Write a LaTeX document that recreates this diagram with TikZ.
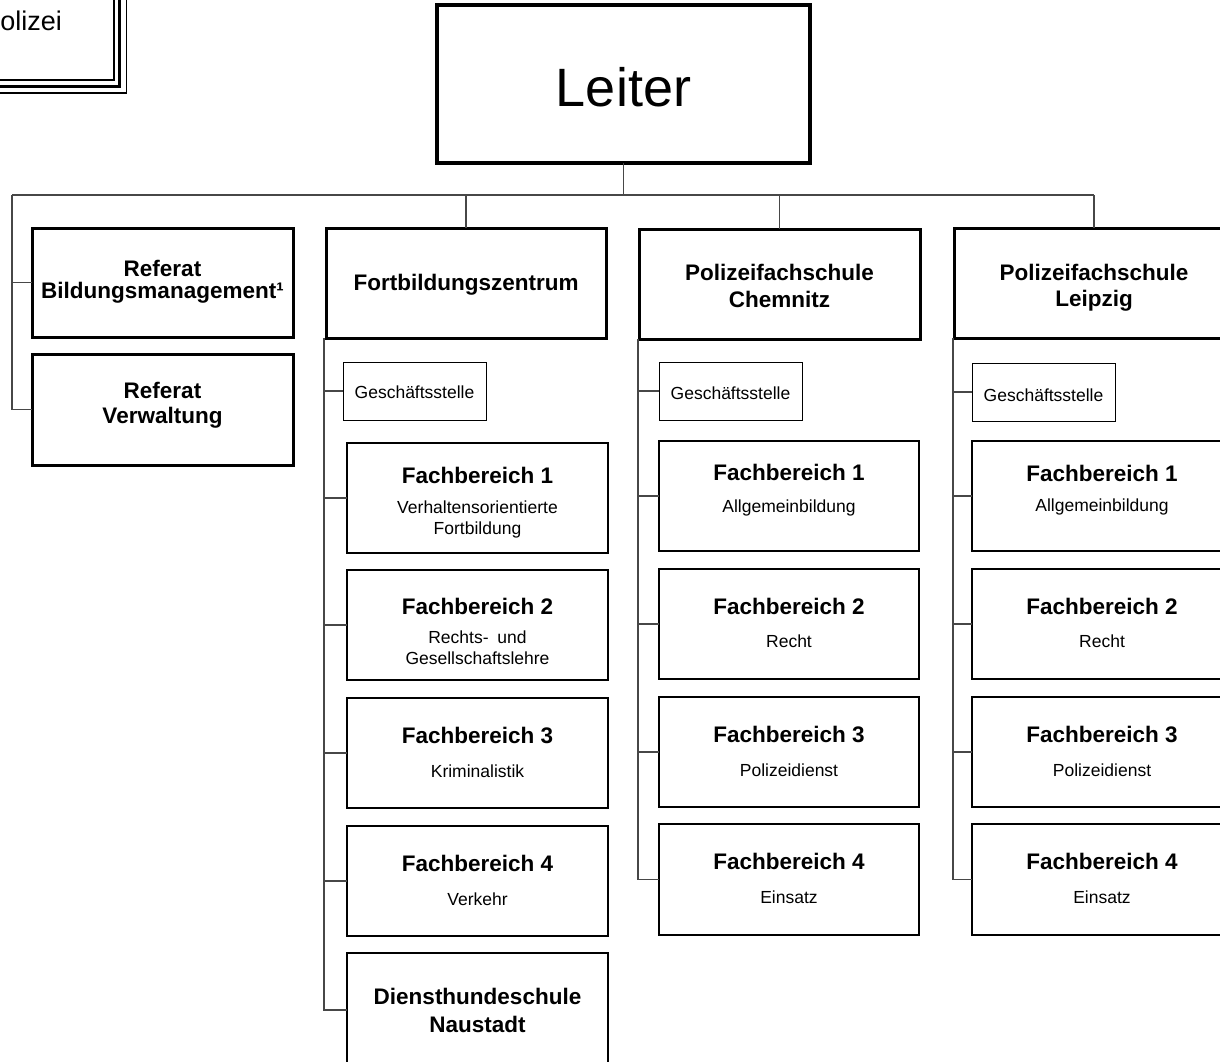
\documentclass[tikz,border=0pt]{standalone}
\usepackage{fontspec}
\setmainfont{Liberation Sans}
\begin{document}
\begin{tikzpicture}[x=1pt,y=-1pt,
  conn/.style={draw=black!72, line width=1.1pt},
  box/.style={draw=black, fill=white, rectangle, anchor=north west, inner sep=0pt, outer sep=0pt},
  leiterbox/.style={box, line width=4pt},
  headbox/.style={box, line width=3pt},
  fbbox/.style={box, line width=2.2pt, minimum width=261pt, minimum height=110pt},
  gsbox/.style={box, line width=1pt, minimum width=143pt, minimum height=58pt},
  tbig/.style={anchor=base, inner sep=0pt, font=\fontsize{54}{60}\selectfont},
  thead/.style={anchor=base, inner sep=0pt, font=\fontsize{22.5}{26}\selectfont\bfseries},
  tsub/.style={anchor=base, inner sep=0pt, font=\fontsize{17.5}{21}\selectfont},
]
\useasboundingbox (0,0) rectangle (1220,1061);
\fill[white] (0,0) rectangle (1220,1061);

% top-left box (mostly outside the picture)
\draw[line width=1.4pt] (-30,-30) rectangle (114,80);
\draw[line width=3.2pt] (-30,-30) rectangle (119.5,86.5);
\draw[line width=1.4pt] (-30,-30) rectangle (126.5,93);
\node[anchor=base east, inner sep=0pt, font=\fontsize{27}{30}\selectfont] (hstext) at (62,30) {olizei};

% Leiter
\node[leiterbox, minimum width=373pt, minimum height=158pt] (leiter) at (437,5) {};
\node[tbig] (tleiter) at (623.5,106) {Leiter};

% Referate
\node[headbox, minimum width=261pt, minimum height=109pt] (refbm) at (32,228) {};
\node[thead] (trefbm1) at (162.5,276) {Referat};
\node[thead] (trefbm2) at (162.5,298) {Bildungsmanagement¹};
\node[headbox, minimum width=261pt, minimum height=111pt] (refvw) at (32,354) {};
\node[thead] (trefvw1) at (162.5,398) {Referat};
\node[thead] (trefvw2) at (162.5,423) {Verwaltung};

% heads of columns
\node[headbox, minimum width=280pt, minimum height=110pt] (fbz) at (326,228) {};
\node[thead] (tfbz) at (466,290) {Fortbildungszentrum};
\node[headbox, minimum width=281pt, minimum height=110pt] (pfc) at (639,229) {};
\node[thead] (tpfc1) at (779.5,280) {Polizeifachschule};
\node[thead] (tpfc2) at (779.5,307) {Chemnitz};
\node[headbox, minimum width=280pt, minimum height=110pt] (pfl) at (954,228) {};
\node[thead] (tpfl1) at (1094,280) {Polizeifachschule};
\node[thead] (tpfl2) at (1094,306) {Leipzig};

% Geschaeftsstellen
\node[gsbox] (gs2) at (343,362) {};
\node[tsub] (tgs2) at (414.5,398) {Geschäftsstelle};
\node[gsbox] (gs3) at (659,362) {};
\node[tsub] (tgs3) at (730.5,399) {Geschäftsstelle};
\node[gsbox] (gs4) at (972,363) {};
\node[tsub] (tgs4) at (1043.5,401) {Geschäftsstelle};

% column 2
\node[fbbox] (c2f1) at (347,443) {};
\node[thead] (tc2f1) at (477.5,483) {Fachbereich 1};
\node[tsub] (sc2f1a) at (477.5,513) {Verhaltensorientierte};
\node[tsub] (sc2f1b) at (477.5,534) {Fortbildung};
\node[fbbox] (c2f2) at (347,570) {};
\node[thead] (tc2f2) at (477.5,614) {Fachbereich 2};
\node[tsub] (sc2f2a) at (477.5,643) {Rechts-\hspace{4pt} und};
\node[tsub] (sc2f2b) at (477.5,664) {Gesellschaftslehre};
\node[fbbox] (c2f3) at (347,698) {};
\node[thead] (tc2f3) at (477.5,743) {Fachbereich 3};
\node[tsub] (sc2f3) at (477.5,777) {Kriminalistik};
\node[fbbox] (c2f4) at (347,826) {};
\node[thead] (tc2f4) at (477.5,871) {Fachbereich 4};
\node[tsub] (sc2f4) at (477.5,905) {Verkehr};
\node[fbbox, minimum height=114pt] (c2dh) at (347,953) {};
\node[thead] (tc2dh1) at (477.5,1004) {Diensthundeschule};
\node[thead] (tc2dh2) at (477.5,1032) {Naustadt};

% column 3
\node[fbbox, minimum width=260pt] (c3f1) at (659,441) {};
\node[thead] (tc3f1) at (789,480) {Fachbereich 1};
\node[tsub] (sc3f1) at (789,512) {Allgemeinbildung};
\node[fbbox, minimum width=260pt] (c3f2) at (659,569) {};
\node[thead] (tc3f2) at (789,614) {Fachbereich 2};
\node[tsub] (sc3f2) at (789,647) {Recht};
\node[fbbox, minimum width=260pt] (c3f3) at (659,697) {};
\node[thead] (tc3f3) at (789,742) {Fachbereich 3};
\node[tsub] (sc3f3) at (789,776) {Polizeidienst};
\node[fbbox, minimum width=260pt, minimum height=111pt] (c3f4) at (659,824) {};
\node[thead] (tc3f4) at (789,869) {Fachbereich 4};
\node[tsub] (sc3f4) at (789,903) {Einsatz};

% column 4
\node[fbbox, minimum width=260pt] (c4f1) at (972,441) {};
\node[thead] (tc4f1) at (1102,481) {Fachbereich 1};
\node[tsub] (sc4f1) at (1102,511) {Allgemeinbildung};
\node[fbbox, minimum width=260pt] (c4f2) at (972,569) {};
\node[thead] (tc4f2) at (1102,614) {Fachbereich 2};
\node[tsub] (sc4f2) at (1102,647) {Recht};
\node[fbbox, minimum width=260pt] (c4f3) at (972,697) {};
\node[thead] (tc4f3) at (1102,742) {Fachbereich 3};
\node[tsub] (sc4f3) at (1102,776) {Polizeidienst};
\node[fbbox, minimum width=260pt, minimum height=111pt] (c4f4) at (972,824) {};
\node[thead] (tc4f4) at (1102,869) {Fachbereich 4};
\node[tsub] (sc4f4) at (1102,903) {Einsatz};

% connectors
\coordinate (busL) at (12,195);
\draw[conn] (leiter.south) -- (leiter.south |- busL);
\draw[conn] (busL) -- (busL -| pfl.north);
\draw[conn] (busL -| fbz.north) -- (fbz.north);
\draw[conn] (busL -| pfc.north) -- (pfc.north);
\draw[conn] (busL -| pfl.north) -- (pfl.north);
\draw[conn] (busL) |- (refbm.west);
\draw[conn] (busL) |- (refvw.west);

\coordinate (c2) at (324,338);
\foreach \n in {gs2,c2f1,c2f2,c2f3,c2f4,c2dh} \draw[conn] (c2) |- (\n.west);
\coordinate (c3) at (638,339);
\foreach \n in {gs3,c3f1,c3f2,c3f3,c3f4} \draw[conn] (c3) |- (\n.west);
\coordinate (c4) at (953,338);
\foreach \n in {gs4,c4f1,c4f2,c4f3,c4f4} \draw[conn] (c4) |- (\n.west);
\end{tikzpicture}
\end{document}
